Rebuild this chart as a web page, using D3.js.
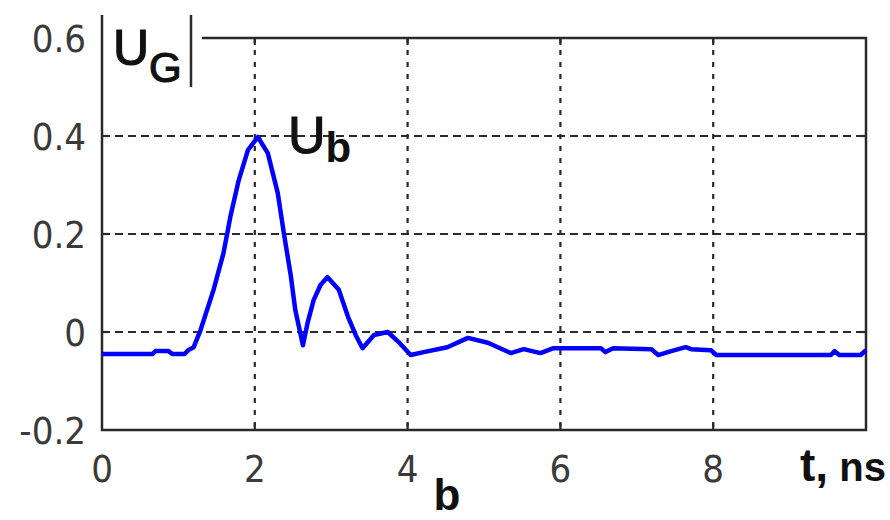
<!DOCTYPE html>
<html><head><meta charset="utf-8">
<script src="https://cdn.jsdelivr.net/npm/d3@7"></script>
<style>body{margin:0;background:#fff}svg{display:block}</style>
</head><body>
<svg id="c" width="890" height="520"></svg>
<script>
// ---- data ----
const timeNs = [0,0.66,0.70,0.87,0.92,1.08,1.13,1.20,1.29,1.46,1.59,1.68,1.79,1.91,2.04,2.17,2.30,2.38,2.47,2.53,2.63,2.69,2.77,2.86,2.95,3.10,3.22,3.32,3.41,3.56,3.74,3.88,4.04,4.21,4.52,4.79,5.05,5.35,5.52,5.74,5.91,6.53,6.59,6.69,7.19,7.28,7.45,7.64,7.71,7.97,8.04,9.54,9.59,9.65,9.93,10.0];
const ugValues = [-0.045,-0.045,-0.039,-0.039,-0.045,-0.045,-0.037,-0.031,0.004,0.086,0.161,0.235,0.310,0.371,0.398,0.365,0.284,0.202,0.116,0.045,-0.027,0.018,0.065,0.096,0.112,0.086,0.031,-0.006,-0.033,-0.006,0.0,-0.020,-0.047,-0.041,-0.031,-0.012,-0.022,-0.043,-0.035,-0.043,-0.033,-0.033,-0.041,-0.033,-0.035,-0.047,-0.039,-0.031,-0.035,-0.037,-0.047,-0.047,-0.039,-0.047,-0.047,-0.037];
const xTicks = [0,2,4,6,8];
const xTickLabels = ["0","2","4","6","8"];
const yTicks = [-0.2,0,0.2,0.4,0.6];
const yTickLabels = ["-0.2","0","0.2","0.4","0.6"];
const xGrid = [2,4,6,8];
const yGrid = [0,0.2,0.4];

// ---- layout ----
const L=102, R=866, T=38, B=430;
const x = d3.scaleLinear().domain([0,10]).range([L,R]);
const y = d3.scaleLinear().domain([-0.2,0.6]).range([B,T]);
const svg = d3.select("#c");
const ink = "#2a2a2a";

// grid
svg.append("g").selectAll("line").data(xGrid).join("line")
  .attr("x1",d=>x(d)).attr("x2",d=>x(d)).attr("y1",T).attr("y2",B)
  .attr("stroke",ink).attr("stroke-width",2.2).attr("stroke-dasharray","5,7");
svg.append("g").selectAll("line").data(yGrid).join("line")
  .attr("x1",L).attr("x2",R).attr("y1",d=>y(d)).attr("y2",d=>y(d))
  .attr("stroke",ink).attr("stroke-width",2.2).attr("stroke-dasharray","8,5");
// ticks (inner)
const tk = svg.append("g").attr("stroke",ink).attr("stroke-width",2.2);
xGrid.forEach(d=>{
  tk.append("line").attr("x1",x(d)).attr("x2",x(d)).attr("y1",B).attr("y2",B-7);
  tk.append("line").attr("x1",x(d)).attr("x2",x(d)).attr("y1",T).attr("y2",T+7);
});
yGrid.forEach(d=>{
  tk.append("line").attr("x1",L).attr("x2",L+7).attr("y1",y(d)).attr("y2",y(d));
  tk.append("line").attr("x1",R).attr("x2",R-7).attr("y1",y(d)).attr("y2",y(d));
});

// frame
const fr = svg.append("g").attr("stroke",ink).attr("stroke-width",2.5).attr("fill","none");
fr.append("path").attr("d",`M${L},15 L${L},${B} L${R},${B} L${R},${T} L202,${T}`);
fr.append("line").attr("x1",191).attr("x2",191).attr("y1",15).attr("y2",87);

// curve
const pts = timeNs.map((t,i)=>[t,ugValues[i]]);
svg.append("path").datum(pts)
  .attr("d",d3.line().x(d=>x(d[0])).y(d=>y(d[1])))
  .attr("fill","none").attr("stroke","#0000ff").attr("stroke-width",4.5)
  .attr("stroke-linejoin","round");

// tick labels
const tf = "'DejaVu Sans Condensed','DejaVu Sans',sans-serif";
svg.append("g").selectAll("text").data(yTicks).join("text")
  .attr("x",86).attr("y",d=>y(d)).attr("dy","0.36em")
  .attr("text-anchor","end").attr("font-family",tf).attr("font-size",38)
  .attr("fill","#3a3a3a").text((d,i)=>yTickLabels[i]);
svg.append("g").selectAll("text").data(xTicks).join("text")
  .attr("x",d=>x(d)).attr("y",482)
  .attr("text-anchor","middle").attr("font-family",tf).attr("font-size",38)
  .attr("fill","#3a3a3a").text((d,i)=>xTickLabels[i]);

// labels
const lf = "'Liberation Sans',Arial,sans-serif";
const ug = svg.append("text").attr("x",113).attr("y",65).attr("font-family",lf)
  .attr("fill","#111").attr("stroke","#111").attr("stroke-width",1.2);
ug.append("tspan").attr("font-size",50).text("U");
ug.append("tspan").attr("font-size",42).attr("dy",17).text("G");

const ub = svg.append("text").attr("x",288).attr("y",153).attr("font-family",lf)
  .attr("fill","#111").attr("stroke","#111").attr("stroke-width",1.2);
ub.append("tspan").attr("font-size",52).text("U");
ub.append("tspan").attr("font-size",42).attr("font-weight","bold").attr("stroke-width",0).attr("dy",9).text("b");

const tl = svg.append("text").attr("x",800).attr("y",481).attr("font-family",lf).attr("font-weight","bold").attr("fill","#111");
tl.append("tspan").attr("font-size",46).text("t,");
tl.append("tspan").attr("font-size",40).text(" ns");

svg.append("text").attr("x",447).attr("y",510).attr("text-anchor","middle")
  .attr("font-family",lf).attr("font-weight","bold").attr("font-size",44).attr("fill","#111").text("b");
</script>
</body></html>
